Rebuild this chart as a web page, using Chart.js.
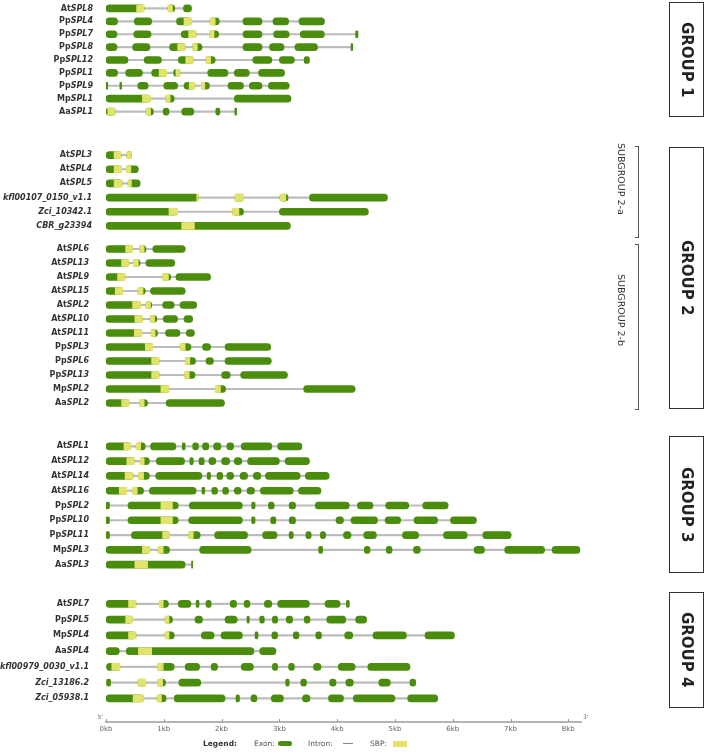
<!DOCTYPE html>
<html>
<head>
<meta charset="utf-8">
<script src="https://cdn.jsdelivr.net/npm/chart.js@4.4.0/dist/chart.umd.min.js"></script>
<style>
  body { margin: 0; background: #fff; width: 708px; height: 752px; position: relative; overflow: hidden; font-family: "DejaVu Sans", sans-serif; }
  canvas { position: absolute; left: 0; }
  .group { position: absolute; left: 669px; width: 35px; border: 1.5px solid #333; box-sizing: border-box; display: flex; align-items: center; justify-content: center; }
  .group span { writing-mode: vertical-rl; font-weight: bold; font-size: 15px; color: #222; }
  .sub { position: absolute; writing-mode: vertical-rl; font-size: 9.5px; color: #333; }
  .bracket { position: absolute; left: 635px; width: 3px; border: 1px solid #555; border-left: none; }
  .lg { position: absolute; top: 738.5px; font-size: 7.5px; line-height: 9px; color: #555; }
</style>
</head>
<body>
<canvas id="g1" width="708" height="116" style="top:1.5px"></canvas>
<canvas id="g2a" width="708" height="85" style="top:147.6px"></canvas>
<canvas id="g2b" width="708" height="168" style="top:242.3px"></canvas>
<canvas id="g3" width="708" height="133" style="top:438.6px"></canvas>
<canvas id="g4" width="708" height="156" style="top:596px"></canvas>

<div class="group" style="top:2px;height:115px"><span>GROUP 1</span></div>
<div class="group" style="top:147px;height:262px"><span>GROUP 2</span></div>
<div class="group" style="top:436px;height:137px"><span>GROUP 3</span></div>
<div class="group" style="top:592px;height:116px"><span>GROUP 4</span></div>

<div class="bracket" style="top:145.7px;height:90px"></div>
<div class="bracket" style="top:244.3px;height:164px"></div>
<div class="sub" style="left:616px;top:143px">SUBGROUP 2-a</div>
<div class="sub" style="left:616px;top:274px">SUBGROUP 2-b</div>

<div class="lg" style="left:203px;font-weight:bold;color:#333">Legend:</div>
<div class="lg" style="left:254px">Exon:</div>
<div style="position:absolute;left:278px;top:741px;width:13.5px;height:5px;border-radius:3px;background:#4a8c0c"></div>
<div class="lg" style="left:308px">Intron:</div>
<div style="position:absolute;left:343px;top:743px;width:10px;height:1px;background:#888"></div>
<div class="lg" style="left:370px">SBP:</div>
<div style="position:absolute;left:393px;top:740.5px;width:13.5px;height:6px;background:#e2e36a"></div>

<script>
// positions in kb from the 5' end
const group1Genes = ['AtSPL8', 'PpSPL4', 'PpSPL7', 'PpSPL8', 'PpSPL12', 'PpSPL1', 'PpSPL9', 'MpSPL1', 'AaSPL1'];
const group1Exons = [
  [[0,0.66],[1.07,1.19],[1.34,1.48]],
  [[0,0.2],[0.49,0.79],[1.22,1.48],[1.8,1.96],[2.37,2.7],[2.89,3.16],[3.34,3.78]],
  [[0,0.19],[0.48,0.78],[1.3,1.56],[1.79,1.95],[2.37,2.7],[2.9,3.17],[3.36,3.78],[4.32,4.36]],
  [[0,0.19],[0.46,0.76],[1.1,1.37],[1.5,1.66],[2.37,2.7],[2.83,3.08],[3.27,3.66],[4.24,4.27]],
  [[0,0.38],[0.66,0.96],[1.25,1.51],[1.73,1.89],[2.54,2.87],[3.0,3.26],[3.43,3.52]],
  [[0,0.2],[0.34,0.63],[0.79,1.05],[1.17,1.28],[1.76,2.11],[2.22,2.48],[2.64,3.09]],
  [[0,0.03],[0.24,0.27],[0.55,0.73],[1.0,1.24],[1.35,1.54],[1.65,1.79],[2.11,2.38],[2.48,2.7],[2.81,3.17]],
  [[0,0.77],[1.03,1.18],[2.22,3.2]],
  [[0,0.16],[0.69,0.82],[0.99,1.09],[1.31,1.52],[1.9,1.97],[2.23,2.26]]
];
const group1Sbp = [
  [[0.53,0.66],[1.07,1.15]],
  [[1.35,1.48],[1.8,1.89]],
  [[1.43,1.56],[1.79,1.87]],
  [[1.24,1.37],[1.5,1.58]],
  [[1.38,1.51],[1.73,1.81]],
  [[0.92,1.05],[1.21,1.28]],
  [[1.44,1.54],[1.65,1.71]],
  [[0.63,0.77],[1.03,1.11]],
  [[0.03,0.16],[0.69,0.77]]
];

const group2aGenes = ['AtSPL3', 'AtSPL4', 'AtSPL5', 'kfl00107_0150_v1.1', 'Zci_10342.1', 'CBR_g23394'];
const group2aExons = [
  [[0,0.26],[0.36,0.44]],
  [[0,0.27],[0.35,0.56]],
  [[0,0.28],[0.38,0.59]],
  [[0,1.6],[2.23,2.38],[3.01,3.15],[3.52,4.87]],
  [[0,1.24],[2.19,2.38],[3.0,4.54]],
  [[0,3.19]]
];
const group2aSbp = [
  [[0.14,0.26],[0.36,0.44]],
  [[0.14,0.27],[0.35,0.43]],
  [[0.14,0.28],[0.38,0.44]],
  [[1.57,1.6],[2.23,2.38],[3.01,3.11]],
  [[1.09,1.24],[2.19,2.3]],
  [[1.31,1.53]]
];

const group2bGenes = ['AtSPL6', 'AtSPL13', 'AtSPL9', 'AtSPL15', 'AtSPL2', 'AtSPL10', 'AtSPL11', 'PpSPL3', 'PpSPL6', 'PpSPL13', 'MpSPL2', 'AaSPL2'];
const group2bExons = [
  [[0,0.46],[0.58,0.69],[0.81,1.37]],
  [[0,0.4],[0.47,0.59],[0.69,1.19]],
  [[0,0.33],[0.98,1.12],[1.21,1.81]],
  [[0,0.29],[0.55,0.68],[0.77,1.37]],
  [[0,0.6],[0.69,0.79],[0.98,1.18],[1.28,1.57]],
  [[0,0.63],[0.76,0.88],[0.99,1.24],[1.35,1.5]],
  [[0,0.62],[0.78,0.89],[1.03,1.28],[1.39,1.53]],
  [[0,0.81],[1.28,1.47],[1.67,1.81],[2.06,2.85]],
  [[0,0.92],[1.37,1.55],[1.73,1.86],[2.06,2.86]],
  [[0,0.92],[1.36,1.54],[2.0,2.15],[2.33,3.14]],
  [[0,1.09],[1.89,2.07],[3.42,4.31]],
  [[0,0.4],[0.58,0.72],[1.04,2.05]]
];
const group2bSbp = [
  [[0.34,0.46],[0.58,0.66]],
  [[0.27,0.4],[0.47,0.56]],
  [[0.2,0.33],[0.98,1.08]],
  [[0.16,0.29],[0.55,0.64]],
  [[0.46,0.6],[0.69,0.77]],
  [[0.5,0.63],[0.76,0.84]],
  [[0.49,0.62],[0.78,0.85]],
  [[0.68,0.81],[1.28,1.37]],
  [[0.79,0.92],[1.37,1.45]],
  [[0.79,0.92],[1.36,1.44]],
  [[0.95,1.09],[1.89,1.98]],
  [[0.27,0.4],[0.58,0.66]]
];

const group3Genes = ['AtSPL1', 'AtSPL12', 'AtSPL14', 'AtSPL16', 'PpSPL2', 'PpSPL10', 'PpSPL11', 'MpSPL3', 'AaSPL3'];
const group3Exons = [
  [[0,0.43],[0.52,0.68],[0.77,1.21],[1.32,1.37],[1.5,1.6],[1.67,1.78],[1.86,1.99],[2.09,2.21],[2.34,2.87],[2.97,3.39]],
  [[0,0.49],[0.59,0.75],[0.87,1.36],[1.45,1.51],[1.61,1.7],[1.78,1.9],[2.0,2.14],[2.22,2.35],[2.45,3.0],[3.1,3.52]],
  [[0,0.47],[0.56,0.75],[0.86,1.66],[1.75,1.81],[1.92,2.02],[2.09,2.21],[2.32,2.45],[2.55,2.68],[2.76,3.36],[3.45,3.86]],
  [[0,0.36],[0.46,0.65],[0.75,1.56],[1.66,1.71],[1.83,1.93],[2.02,2.12],[2.22,2.34],[2.44,2.57],[2.67,3.24],[3.33,3.72]],
  [[0,0.06],[0.38,1.25],[1.44,2.36],[2.52,2.58],[2.81,2.91],[3.17,3.28],[3.62,4.21],[4.35,4.62],[4.84,5.24],[5.48,5.92]],
  [[0,0.06],[0.38,1.25],[1.43,2.36],[2.52,2.58],[2.85,2.94],[3.17,3.28],[3.98,4.11],[4.24,4.7],[4.83,5.1],[5.33,5.74],[5.96,6.41]],
  [[0,0.06],[0.44,1.1],[1.43,1.63],[1.88,2.45],[2.71,2.96],[3.17,3.24],[3.46,3.55],[3.71,3.8],[4.11,4.24],[4.46,4.68],[5.13,5.41],[5.84,6.25],[6.52,7.01]],
  [[0,0.76],[0.9,1.1],[1.62,2.51],[3.68,3.75],[4.47,4.57],[4.85,4.95],[5.32,5.44],[6.37,6.55],[6.9,7.59],[7.72,8.2]],
  [[0,1.37],[1.48,1.5]]
];
const group3Sbp = [
  [[0.31,0.43],[0.52,0.6]],
  [[0.36,0.49],[0.59,0.66]],
  [[0.33,0.47],[0.56,0.65]],
  [[0.23,0.36],[0.46,0.54]],
  [[0.95,1.15]],
  [[0.95,1.15]],
  [[0.98,1.1],[1.43,1.51]],
  [[0.63,0.76],[0.9,0.99]],
  [[0.5,0.72]]
];

const group4Genes = ['AtSPL7', 'PpSPL5', 'MpSPL4', 'AaSPL4', 'kfl00979_0030_v1.1', 'Zci_13186.2', 'Zci_05938.1'];
const group4Exons = [
  [[0,0.52],[0.92,1.08],[1.25,1.47],[1.56,1.61],[1.73,1.82],[2.15,2.26],[2.39,2.49],[2.74,2.87],[2.97,3.52],[3.79,4.05],[4.16,4.21]],
  [[0,0.46],[1.02,1.15],[1.54,1.67],[2.06,2.27],[2.44,2.48],[2.66,2.74],[2.88,2.97],[3.12,3.23],[3.43,3.53],[3.82,4.15],[4.32,4.51]],
  [[0,0.52],[1.02,1.18],[1.65,1.87],[1.99,2.36],[2.58,2.63],[2.87,2.97],[3.24,3.34],[3.63,3.73],[4.13,4.27],[4.62,5.2],[5.52,6.03]],
  [[0,0.23],[0.35,2.56],[2.66,2.94]],
  [[0.01,0.24],[0.89,1.18],[1.37,1.62],[1.82,1.93],[2.34,2.55],[2.88,2.97],[3.16,3.26],[3.59,3.72],[4.02,4.31],[4.53,5.26]],
  [[0.01,0.08],[0.55,0.69],[0.89,1.03],[1.26,1.64],[3.11,3.17],[3.37,3.47],[3.87,3.98],[4.15,4.28],[4.72,4.92],[5.26,5.36]],
  [[0,0.65],[0.88,1.04],[1.18,2.06],[2.25,2.31],[2.51,2.61],[2.86,3.07],[3.4,3.53],[3.85,4.11],[4.28,5.0],[5.22,5.74]]
];
const group4Sbp = [
  [[0.39,0.52],[0.92,0.99]],
  [[0.34,0.46],[1.02,1.09]],
  [[0.39,0.52],[1.02,1.09]],
  [[0.56,0.79]],
  [[0.1,0.24],[0.89,0.99]],
  [[0.55,0.69],[0.89,0.98]],
  [[0.47,0.65],[0.88,0.96]]
];

const kbTicks = [0, 1, 2, 3, 4, 5, 6, 7, 8];

const EXON = '#4a8c0c';
const SBP = '#e2e36a';
const INTRON = '#bcbcbc';

// gene names: species prefix upright, gene name italic
const geneLabels = {
  id: 'geneLabels',
  afterDraw(chart, args, opts) {
    const { ctx } = chart;
    const y = chart.scales.y;
    ctx.save();
    ctx.fillStyle = '#333';
    ctx.textBaseline = 'middle';
    ctx.textAlign = 'right';
    const italic = 'italic bold 8px "DejaVu Sans"';
    const upright = 'bold 8px "DejaVu Sans"';
    chart.data.labels.forEach((lab, i) => {
      if (!lab) return;
      const py = y.getPixelForValue(i);
      const m = lab.match(/^(At|Pp|Mp|Aa)(SPL.*)$/);
      let x = opts.right;
      if (m) {
        ctx.font = italic;
        ctx.fillText(m[2], x, py);
        x -= ctx.measureText(m[2]).width;
        ctx.font = upright;
        ctx.fillText(m[1], x, py);
      } else {
        ctx.font = italic;
        ctx.fillText(lab, x, py);
      }
    });
    ctx.restore();
  }
};

// small upward tick marks and the 5' / 3' ends
const axisMarks = {
  id: 'axisMarks',
  afterDraw(chart) {
    const x = chart.scales.x;
    if (!x.options.display) return;
    const { ctx } = chart;
    const base = x.top;
    ctx.save();
    ctx.strokeStyle = '#999';
    ctx.lineWidth = 1;
    kbTicks.forEach(v => {
      const px = Math.round(x.getPixelForValue(v)) + 0.5;
      ctx.beginPath();
      ctx.moveTo(px, base);
      ctx.lineTo(px, base - 3);
      ctx.stroke();
    });
    ctx.fillStyle = '#666';
    ctx.font = '6px "DejaVu Sans"';
    ctx.textBaseline = 'bottom';
    ctx.textAlign = 'right';
    ctx.fillText("5'", x.left - 3, base - 2);
    ctx.textAlign = 'left';
    ctx.fillText("3'", x.right + 2, base - 2);
    ctx.restore();
  }
};

function drawGroup(id, genes, exons, sbp, labelRight, showAxis) {
  const labels = showAxis ? genes.concat(['']) : genes;
  const intronData = genes.map((g, i) => ({ y: g, x: [exons[i][0][0], exons[i][exons[i].length - 1][1]] }));
  const exonData = [];
  const sbpData = [];
  genes.forEach((g, i) => {
    exons[i].forEach(e => exonData.push({ y: g, x: e }));
    sbp[i].forEach(s => sbpData.push({ y: g, x: s }));
  });

  new Chart(document.getElementById(id), {
    type: 'bar',
    data: {
      labels: labels,
      datasets: [
        // higher order is painted first (underneath)
        { label: 'Intron', data: intronData, backgroundColor: INTRON, barThickness: 1.5, borderRadius: 0, order: 3 },
        { label: 'Exon', data: exonData, backgroundColor: EXON, barThickness: 7, borderRadius: 4, borderSkipped: false, order: 2 },
        { label: 'SBP', data: sbpData, backgroundColor: SBP, barThickness: 7, borderRadius: 0, borderSkipped: false, order: 1 }
      ]
    },
    options: {
      responsive: false,
      animation: false,
      events: [],
      indexAxis: 'y',
      layout: { padding: { left: 0, right: 127, top: 0, bottom: 0 } },
      datasets: { bar: { grouped: false } },
      plugins: {
        legend: { display: false },
        tooltip: { enabled: false },
        geneLabels: { right: labelRight }
      },
      scales: {
        y: {
          type: 'category',
          offset: true,
          grid: { display: false },
          border: { display: false },
          ticks: { display: false },
          afterFit: s => { s.width = 106; }
        },
        x: {
          type: 'linear',
          min: 0,
          max: 8.22,
          display: showAxis,
          grid: { display: false, drawTicks: false },
          border: { display: true, color: '#b4b4b4', width: 2 },
          afterBuildTicks: s => { s.ticks = kbTicks.map(v => ({ value: v })); },
          ticks: {
            callback: v => v + 'kb',
            color: '#666',
            font: { family: 'DejaVu Sans', size: 7 },
            padding: 3,
            maxRotation: 0,
            autoSkip: false
          },
          afterFit: s => { if (showAxis) s.height = 30; }
        }
      }
    },
    plugins: [geneLabels, axisMarks]
  });
}

drawGroup('g1', group1Genes, group1Exons, group1Sbp, 93, false);
drawGroup('g2a', group2aGenes, group2aExons, group2aSbp, 92, false);
drawGroup('g2b', group2bGenes, group2bExons, group2bSbp, 89, false);
drawGroup('g3', group3Genes, group3Exons, group3Sbp, 89, false);
drawGroup('g4', group4Genes, group4Exons, group4Sbp, 89, true);
</script>
</body>
</html>
